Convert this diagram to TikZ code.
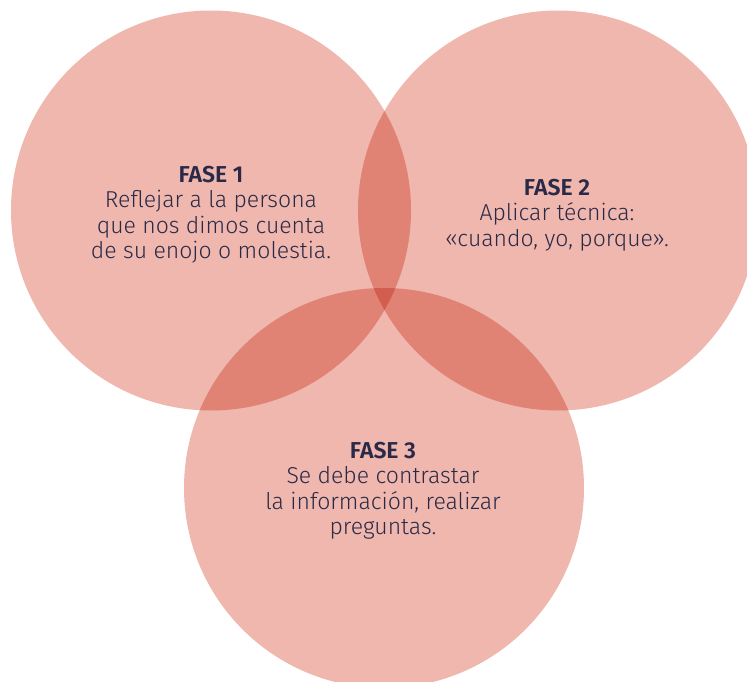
\documentclass[tikz,border=0pt]{standalone}
\usepackage{fontspec}
\setmainfont{Fira Sans}[UprightFont=* Light, BoldFont=* SemiBold]
\definecolor{petal}{HTML}{EFB7AD}
\definecolor{ink}{HTML}{2A2A48}
\tikzset{
  petalc/.style={circle, fill=petal, minimum size=400pt, inner sep=0pt, draw=none},
  phase/.style={align=center, text=ink, inner sep=0pt, anchor=base,
    font=\fontsize{23}{25.5}\selectfont}
}
\begin{document}
\begin{tikzpicture}[x=1pt,y=-1pt]
\useasboundingbox (0,0) rectangle (747,682);
\begin{scope}[blend group=multiply]
\node[petalc] (c1) at (211,210.5) {};
\node[petalc] (c2) at (558,210.5) {};
\node[petalc] (c3) at (384,488) {};
\end{scope}
\node[phase] (t1) at (211,258.5) {\textbf{FASE 1}\\Reflejar a la persona\\que nos dimos cuenta\\de su enojo o molestia.};
\node[phase] (t2) at (557,246) {\textbf{FASE 2}\\Aplicar técnica:\\«cuando, yo, porque».};
\node[phase] (t3) at (383,534.5) {\textbf{FASE 3}\\Se debe contrastar\\la información, realizar\\preguntas.};
\end{tikzpicture}
\end{document}
